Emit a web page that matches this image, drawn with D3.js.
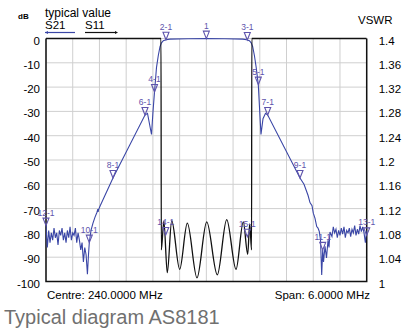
<!DOCTYPE html>
<html>
<head>
<meta charset="utf-8">
<script src="https://cdn.jsdelivr.net/npm/d3@7"></script>
<style>
  body { margin: 0; background: #fff; }
  text { font-family: "Liberation Sans", Arial, sans-serif; }
</style>
</head>
<body>
<div id="chart"></div>
<script>
// Axis ticks
const dbTicks = [0, -10, -20, -30, -40, -50, -60, -70, -80, -90, -100];
const vswrTicks = [1.4, 1.36, 1.32, 1.28, 1.24, 1.2, 1.16, 1.12, 1.08, 1.04, 1];
const freqGrid = [237, 237.5, 238, 238.5, 239, 239.5, 240, 240.5, 241, 241.5, 242, 242.5, 243];

// S21 (dB)
const s21Freq = [
    237.000, 237.025, 237.050, 237.075, 237.100, 237.125, 237.150, 237.175, 237.200, 237.225,
    237.250, 237.275, 237.300, 237.325, 237.350, 237.375, 237.400, 237.425, 237.450, 237.475,
    237.500, 237.525, 237.550, 237.575, 237.600, 237.625, 237.650, 237.675, 237.700, 237.725,
    237.750, 237.775, 237.795, 237.810, 237.842, 237.879, 237.917, 237.954, 237.970, 237.975,
    237.982, 238.010, 238.253, 238.852, 238.899, 238.974, 239.002, 239.030, 239.067, 239.101,
    239.133, 239.161, 239.195, 239.245, 239.320, 239.657, 240.000, 240.348, 240.680, 240.755,
    240.805, 240.839, 240.867, 240.899, 240.933, 240.972, 240.996, 241.022, 241.060, 241.107,
    241.148, 241.752, 241.827, 241.902, 241.939, 241.977, 242.001, 242.033, 242.065, 242.089,
    242.113, 242.136, 242.158, 242.177, 242.192, 242.220, 242.248, 242.276, 242.295, 242.313,
    242.350, 242.375, 242.400, 242.425, 242.450, 242.475, 242.500, 242.525, 242.550, 242.575,
    242.600, 242.625, 242.650, 242.675, 242.700, 242.725, 242.750, 242.775, 242.800, 242.825,
    242.850, 242.875, 242.900, 242.925, 242.950, 242.975, 243.000
];
const s21Db = [
    -77, -86, -79, -84, -80, -83, -78, -82, -80, -85,
    -79, -81, -78, -83, -80, -84, -79, -82, -77.5, -83,
    -80, -81, -78, -84, -80, -83, -87, -84, -92, -86,
    -89, -97, -89, -84, -79, -76, -73.5, -71.5, -70.2, -71.4,
    -70.5, -69, -57.4, -31.5, -30.8, -39.5, -30, -22, -12, -7,
    -3.4, -1.8, -0.9, -0.5, -0.25, -0.1, -0.05, -0.1, -0.25, -0.5,
    -0.9, -1.8, -3.4, -7, -12, -19, -29, -39.5, -33, -30.8,
    -31.5, -57.4, -60, -64.5, -67.5, -68.8, -71.9, -74, -77.4, -78,
    -79.4, -83, -97.3, -87, -92, -85.5, -90.3, -83, -86, -79.6,
    -81.5, -77.5, -80, -78.5, -82, -79, -81, -78, -80.5, -77.5,
    -82, -79, -80, -78, -81.5, -78.5, -80, -77, -81, -78.5,
    -80.5, -77, -79.5, -77.5, -80, -84, -79
];

// S11 (VSWR)
const s11Freq = [237.0, 239.152, 239.157, 239.205, 239.269, 239.352, 239.501, 239.644, 239.825, 240.007,
    240.205, 240.381, 240.555, 240.691, 240.774, 240.811, 240.846, 240.850, 243.0];
const s11Vswr = [1.4, 1.4, 1.052, 1.0996, 1.0145, 1.100, 1.020, 1.096, 1.006, 1.098,
    1.011, 1.102, 1.020, 1.098, 1.045, 1.095, 1.052, 1.4, 1.4];

// Markers
const markerNames = ["1", "2-1", "3-1", "4-1", "5-1", "6-1", "7-1", "8-1", "9-1", "10-1", "11-1", "12-1", "13-1", "14-1", "15-1"];
const markerFreq = [240.0, 239.245, 240.766, 239.03, 240.972, 238.852, 241.148, 238.253, 241.752, 237.81, 242.177, 237.0, 243.0, 239.24, 240.766];
const markerValue = [-0.05, -0.5, -0.6, -22, -19, -31.5, -31.5, -57.4, -57.4, -84, -87, -77, -81, 1.0765, 1.0737];
const markerTrace = ["S21", "S21", "S21", "S21", "S21", "S21", "S21", "S21", "S21", "S21", "S21", "S21", "S21", "S11", "S11"];

const W = 406, H = 329;
const margin = { top: 38.5, left: 46, right: 39.3, bottom: 47.5 },
    width = W - margin.left - margin.right,
    height = H - margin.top - margin.bottom;

const blue = "#3a46a6", markColor = "#5e54ac";

const svg = d3.select("#chart").append("svg")
    .attr("width", W)
    .attr("height", H);

const g = svg.append("g")
    .attr("transform", `translate(${margin.left},${margin.top})`);

const x = d3.scaleLinear().domain([237, 243]).range([0, width]);
const y = d3.scaleLinear().domain([-100, 0]).range([height, 0]);
const yv = d3.scaleLinear().domain([1, 1.4]).range([height, 0]);

// Grid
g.append("g")
    .selectAll("line")
    .data(freqGrid)
    .enter()
    .append("line")
    .attr("x1", d => x(d)).attr("x2", d => x(d))
    .attr("y1", 0).attr("y2", height)
    .attr("stroke", "#cfcfcf").attr("stroke-width", 1);

g.append("g")
    .selectAll("line")
    .data(dbTicks)
    .enter()
    .append("line")
    .attr("x1", 0).attr("x2", width)
    .attr("y1", d => y(d)).attr("y2", d => y(d))
    .attr("stroke", "#cfcfcf").attr("stroke-width", 1);

// Frame (left, right, bottom)
g.append("path")
    .attr("d", `M0,0V${height}H${width}V0`)
    .attr("fill", "none")
    .attr("stroke", "#111")
    .attr("stroke-width", 1.5);

// Left axis labels
g.append("g")
    .selectAll("text")
    .data(dbTicks)
    .enter()
    .append("text")
    .attr("x", -6)
    .attr("y", d => y(d) + 2)
    .attr("dy", "0.35em")
    .attr("text-anchor", "end")
    .style("font-size", "11.5px")
    .text(d => d);

// Right axis labels
g.append("g")
    .selectAll("text")
    .data(vswrTicks)
    .enter()
    .append("text")
    .attr("x", width + 12)
    .attr("y", d => yv(d) + 2)
    .attr("dy", "0.35em")
    .style("font-size", "11.5px")
    .text(d => d);

// Traces
g.append("clipPath").attr("id", "clip")
    .append("rect")
    .attr("x", 0).attr("y", -2).attr("width", width).attr("height", height + 2);

const s21 = s21Freq.map((f, i) => [x(f), y(s21Db[i])]);
const s11 = s11Freq.map((f, i) => [x(f), yv(s11Vswr[i])]);

g.append("path")
    .attr("clip-path", "url(#clip)")
    .attr("d", d3.line()(s21))
    .attr("fill", "none")
    .attr("stroke", blue)
    .attr("stroke-width", 1.1);

g.append("path")
    .attr("clip-path", "url(#clip)")
    .attr("d", d3.line().curve(d3.curveMonotoneX)(s11))
    .attr("fill", "none")
    .attr("stroke", "#111")
    .attr("stroke-width", 1.3);

// Markers
const mk = g.append("g")
    .selectAll("g")
    .data(markerNames.map((n, i) => ({
        name: n,
        px: x(markerFreq[i]),
        py: markerTrace[i] === "S21" ? y(markerValue[i]) : yv(markerValue[i])
    })))
    .enter()
    .append("g")
    .attr("transform", d => `translate(${d.px},${d.py})`);

mk.append("path")
    .attr("d", "M0,0L-3,-7.5L3,-7.5Z")
    .attr("fill", "none")
    .attr("stroke", markColor)
    .attr("stroke-width", 1.1);

mk.append("text")
    .attr("y", -10)
    .attr("text-anchor", "middle")
    .style("font-size", "8.5px")
    .style("fill", markColor)
    .text(d => d.name);

// Header
svg.append("text").attr("x", 45).attr("y", 17)
    .style("font-size", "12px").text("typical value");
svg.append("text").attr("x", 18).attr("y", 19)
    .style("font-size", "8px").style("font-weight", "bold").text("dB");
svg.append("text").attr("x", 45).attr("y", 29)
    .style("font-size", "11.5px").text("S21");
svg.append("text").attr("x", 85).attr("y", 29)
    .style("font-size", "11.5px").text("S11");
svg.append("text").attr("x", 358).attr("y", 24)
    .style("font-size", "11.5px").text("VSWR");

svg.append("path")
    .attr("d", "M45,32.5H75")
    .attr("stroke", blue).attr("stroke-width", 1.2);
svg.append("path")
    .attr("d", "M45,32.5l3,-1.5v3Z")
    .attr("fill", blue);
svg.append("path")
    .attr("d", "M85,32.5H116")
    .attr("stroke", "#111").attr("stroke-width", 1.2);
svg.append("path")
    .attr("d", "M118,32.5l-3,-1.5v3Z")
    .attr("fill", "#111");

// Footer
svg.append("text").attr("x", 47).attr("y", 299)
    .style("font-size", "11.5px").text("Centre: 240.0000 MHz");
svg.append("text").attr("x", 370).attr("y", 299)
    .attr("text-anchor", "end")
    .style("font-size", "11.5px").text("Span: 6.0000 MHz");
svg.append("text").attr("x", 4).attr("y", 324)
    .style("font-size", "20px").style("fill", "#707070").text("Typical diagram AS8181");
</script>
</body>
</html>
